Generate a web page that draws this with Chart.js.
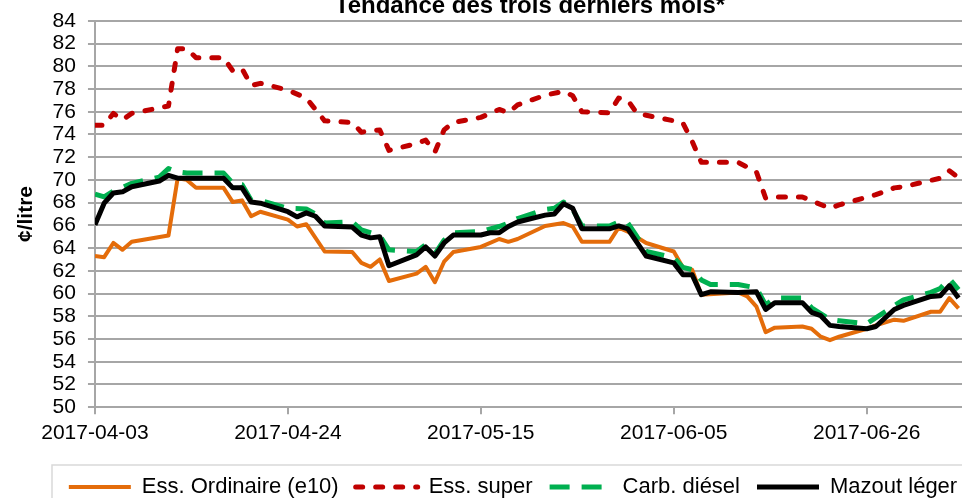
<!DOCTYPE html>
<html lang="fr">

<head>
  <meta charset="UTF-8">
  <title>Tendance des trois derniers mois</title>
  <script src="https://cdn.jsdelivr.net/npm/chart.js"></script>
  <style>
    body {
      margin: 0;
      background: #fff;
      overflow: hidden;
    }

    .wrap {
      position: absolute;
      left: 0;
      top: -8px;
      width: 1044px;
      height: 516px;
    }
  </style>
</head>

<body>
  <div class="wrap"><canvas id="g"></canvas></div>

  <script>
    // jours ouvrables (2017)
    const dates = [
      '04-03', '04-04', '04-05', '04-06', '04-07',
      '04-10', '04-11', '04-12', '04-13', '04-14',
      '04-17', '04-18', '04-19', '04-20', '04-21',
      '04-24', '04-25', '04-26', '04-27', '04-28',
      '05-01', '05-02', '05-03', '05-04', '05-05',
      '05-08', '05-09', '05-10', '05-11', '05-12',
      '05-15', '05-16', '05-17', '05-18', '05-19',
      '05-22', '05-23', '05-24', '05-25', '05-26',
      '05-29', '05-30', '05-31', '06-01', '06-02',
      '06-05', '06-06', '06-07', '06-08', '06-09',
      '06-12', '06-13', '06-14', '06-15', '06-16',
      '06-19', '06-20', '06-21', '06-22', '06-23',
      '06-26', '06-27', '06-28', '06-29', '06-30',
      '07-03', '07-04', '07-05', '07-06'
    ];

    const e10 = [
      63.3, 63.2, 64.45, 63.85, 64.55,
      null, 65.1, 70.15, 70.0, 69.3,
      69.3, 68.05, 68.2, 66.8, 67.2,
      66.5, 65.9, 66.1, null, 63.7,
      63.65, 62.7, 62.35, 63.0, 61.1,
      61.75, 62.35, 61.0, 62.8, 63.65,
      64.1, null, 64.8, 64.55, 64.8,
      65.95, null, 66.2, 65.9, 64.55,
      64.55, 65.8, 65.45, null, 64.45,
      63.7, 62.3, 62.1, 59.9, null,
      60.1, 59.75, 58.85, 56.6, 57.0,
      57.1, 56.9, 56.2, 55.9, 56.2,
      56.9, 57.2, null, 57.7, 57.6,
      58.4, 58.4, 59.6, 58.7
    ];

    const superVals = [
      74.8, 74.8, 75.85, 75.3, 75.85,
      null, 76.5, 81.55, 81.55, 80.75,
      80.75, 79.6, 79.8, 78.3, 78.5,
      77.9, null, 77.2, null, 75.2,
      75.05, 74.2, null, 74.4, 72.6,
      73.2, 73.5, 72.45, 74.4, 75.05,
      75.5, null, 76.2, 75.9, 76.6,
      77.45, null, 77.8, 77.4, 76.0,
      75.9, 77.2, 77.0, 75.85, null,
      75.2, 75.0, 73.4, 71.55, null,
      71.55, null, 70.7, 68.4, 68.5,
      68.5, null, null, 67.5, 67.8,
      null, 68.7, null, 69.3, 69.4,
      null, 70.15, 70.8, 70.2
    ];

    const diesel = [
      68.75, 68.5, 69.0, null, 69.7,
      70.25, 71.0, 70.7, 70.6, null,
      70.6, 69.7, 69.6, 68.2, 68.2,
      67.5, null, 67.45, 67.0, 66.2,
      66.3, 65.6, null, 65.1, 63.85,
      63.7, 64.3, 63.5, 64.7, 65.35,
      65.45, null, 65.9, 66.2, 66.6,
      67.4, 67.5, 68.05, 67.4, 65.95,
      65.95, 66.3, 66.2, 65.0, 63.7,
      63.15, 62.3, 62.1, 61.2, 60.8,
      60.8, null, 60.5, 59.0, 59.6,
      59.6, 58.75, null, 57.7, 57.6,
      57.35, null, 58.4, null, 59.45,
      60.1, 60.45, 61.3, 60.35
    ];

    const mazout = [
      66.05, 67.95, 68.85, 68.95, 69.4,
      69.9, 70.4, 70.15, null, null,
      70.15, 69.3, 69.3, 68.05, 67.95,
      67.2, 66.75, 67.1, 66.8, 65.95,
      65.85, 65.15, 64.9, 65.0, 62.45,
      63.4, 64.1, 63.3, 64.45, 65.15,
      65.15, 65.35, 65.35, 65.9, 66.3,
      66.9, 67.0, 67.9, 67.5, 65.7,
      65.7, 65.95, 65.7, null, 63.3,
      62.7, 61.65, 61.65, 59.9, 60.15,
      60.1, null, 60.15, 58.6, 59.2,
      59.2, 58.35, 58.05, 57.2, 57.1,
      56.9, 57.1, null, 58.6, 58.95,
      59.75, 59.8, 60.7, 59.6
    ];

    const tickLabels = ['2017-04-03', '2017-04-24', '2017-05-15', '2017-06-05', '2017-06-26'];

    const t0 = Date.UTC(2017, 3, 3);
    function jour(s) {
      const p = s.split('-').map(Number);
      const m = p.length === 3 ? [p[1], p[2]] : p;
      return Math.round((Date.UTC(2017, m[0] - 1, m[1]) - t0) / 86400000);
    }
    const days = dates.map(jour);
    const tickDays = tickLabels.map(jour);

    function serie(v) {
      return v.map((y, i) => ({ x: days[i], y: y }));
    }

    const grille = '#a6a6a6';

    // petits decalages du titre et de la legende + cadre de legende
    const cadreLegende = {
      id: 'cadreLegende',
      afterLayout(chart) {
        chart.titleBlock.left += 8;
        chart.titleBlock.right += 8;
        chart.legend.left -= 9;
        chart.legend.right -= 9;
      },
      afterDraw(chart) {
        const l = chart.legend;
        const ctx = chart.ctx;
        ctx.save();
        ctx.strokeStyle = '#d9d9d9';
        ctx.lineWidth = 1.5;
        ctx.strokeRect(52, l.top + 6, chart.width - 104, l.height + 20);
        ctx.restore();
      }
    };

    Chart.defaults.font.family = '"Liberation Sans", Arial, sans-serif';
    Chart.defaults.color = '#000';

    new Chart(document.getElementById('g'), {
      type: 'line',
      data: {
        datasets: [{
          label: 'Ess. Ordinaire (e10)',
          data: serie(e10),
          borderColor: '#e46c0a',
          backgroundColor: '#e46c0a',
          borderWidth: 4,
          order: 4
        }, {
          label: 'Ess. super',
          data: serie(superVals),
          borderColor: '#c00000',
          backgroundColor: '#c00000',
          borderWidth: 5,
          borderDash: [7, 13],
          borderCapStyle: 'round',
          order: 3
        }, {
          label: 'Carb. diésel',
          data: serie(diesel),
          borderColor: '#00b050',
          backgroundColor: '#00b050',
          borderWidth: 5,
          borderDash: [20, 12],
          order: 2
        }, {
          label: 'Mazout léger',
          data: serie(mazout),
          borderColor: '#000',
          backgroundColor: '#000',
          borderWidth: 5,
          order: 1
        }]
      },
      options: {
        responsive: true,
        maintainAspectRatio: false,
        animation: false,
        devicePixelRatio: 1,
        spanGaps: true,
        elements: {
          point: { radius: 0 },
          line: { tension: 0, borderJoinStyle: 'round' }
        },
        layout: { padding: { left: 0, right: 0, top: 0, bottom: 0 } },
        scales: {
          x: {
            type: 'linear',
            min: 0,
            max: 103.3,
            afterBuildTicks: s => { s.ticks = tickDays.map(v => ({ value: v })); },
            ticks: {
              autoSkip: false,
              maxRotation: 0,
              padding: 6,
              font: { size: 21 },
              callback: v => tickLabels[tickDays.indexOf(v)] || ''
            },
            grid: {
              drawOnChartArea: false,
              drawTicks: true,
              tickLength: 7,
              color: grille,
              lineWidth: 2
            },
            border: { display: true, color: grille, width: 2 },
            title: {
              display: true,
              text: ' ',
              font: { size: 5 },
              padding: { top: 1.6, bottom: 0 }
            }
          },
          y: {
            min: 50,
            max: 84,
            ticks: {
              stepSize: 2,
              autoSkip: false,
              padding: 12,
              font: { size: 21 }
            },
            grid: {
              color: grille,
              lineWidth: 2,
              tickLength: 7
            },
            border: { display: true, color: grille, width: 2 },
            title: {
              display: true,
              text: '¢/litre',
              font: { size: 21, weight: 'bold' },
              padding: { top: 13.4, bottom: 2 }
            }
          }
        },
        plugins: {
          title: {
            display: true,
            text: 'Tendance des trois derniers mois*',
            font: { size: 24, weight: 'bold' },
            padding: { top: 0, bottom: 0 }
          },
          legend: {
            position: 'bottom',
            reverse: true,
            labels: {
              usePointStyle: true,
              pointStyle: 'line',
              pointStyleWidth: 62,
              padding: 17,
              font: { size: 22 },
              generateLabels(chart) {
                const items = Chart.defaults.plugins.legend.labels.generateLabels(chart);
                items.forEach(it => {
                  const ds = chart.data.datasets[it.datasetIndex];
                  it.lineDash = ds.borderDash || [];
                  it.lineCap = ds.borderCapStyle || 'butt';
                  it.lineWidth = ds.borderWidth;
                  it.strokeStyle = ds.borderColor;
                });
                return items;
              }
            }
          },
          tooltip: { enabled: false }
        }
      },
      plugins: [cadreLegende]
    });
  </script>
</body>

</html>
